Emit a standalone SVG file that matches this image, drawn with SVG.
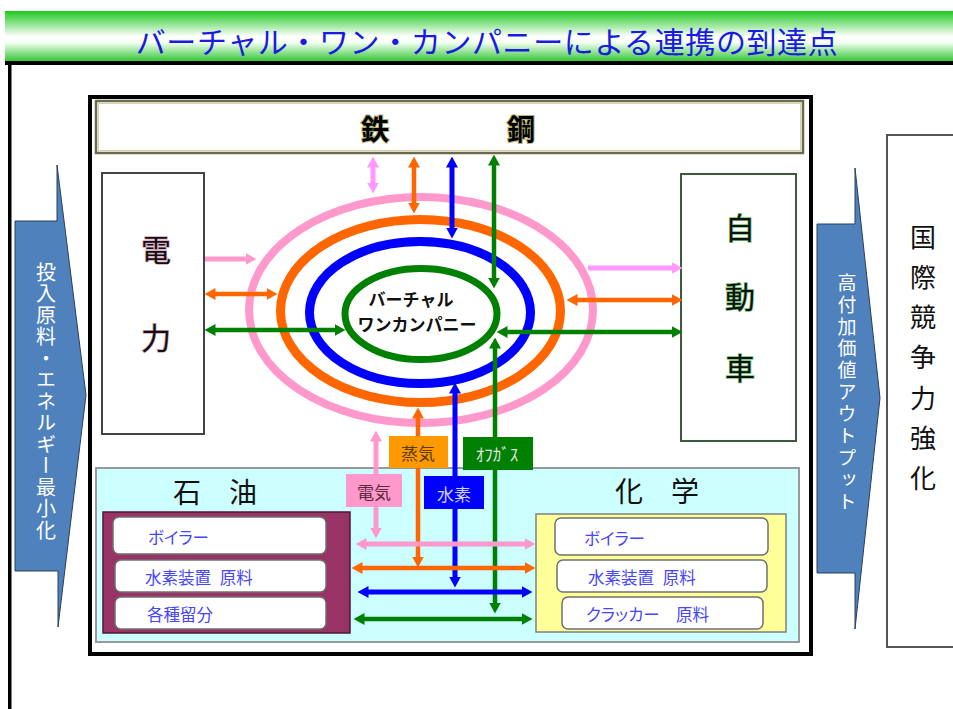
<svg xmlns="http://www.w3.org/2000/svg" width="953" height="709" viewBox="0 0 953 709">
<defs>
<linearGradient id="tg" x1="0" y1="0" x2="0" y2="1">
<stop offset="0" stop-color="#1ec81e"/>
<stop offset="0.5" stop-color="#ffffff"/>
<stop offset="0.62" stop-color="#f2fff2"/>
<stop offset="1" stop-color="#2cc42c"/>
</linearGradient>
<marker id="m-pk" viewBox="0 0 11 12" markerWidth="11" markerHeight="12" refX="0.5" refY="6" orient="auto-start-reverse" markerUnits="userSpaceOnUse"><path d="M0,0 L11,6 L0,12 z" fill="#ff99cc"/></marker>
<marker id="m-pk2" viewBox="0 0 11 12" markerWidth="11" markerHeight="12" refX="0.5" refY="6" orient="auto-start-reverse" markerUnits="userSpaceOnUse"><path d="M0,0 L11,6 L0,12 z" fill="#ff99ff"/></marker>
<marker id="m-or" viewBox="0 0 11 12" markerWidth="11" markerHeight="12" refX="0.5" refY="6" orient="auto-start-reverse" markerUnits="userSpaceOnUse"><path d="M0,0 L11,6 L0,12 z" fill="#ff6600"/></marker>
<marker id="m-bl" viewBox="0 0 11 12" markerWidth="11" markerHeight="12" refX="0.5" refY="6" orient="auto-start-reverse" markerUnits="userSpaceOnUse"><path d="M0,0 L11,6 L0,12 z" fill="#0000ff"/></marker>
<marker id="m-gr" viewBox="0 0 11 12" markerWidth="11" markerHeight="12" refX="0.5" refY="6" orient="auto-start-reverse" markerUnits="userSpaceOnUse"><path d="M0,0 L11,6 L0,12 z" fill="#008000"/></marker>
<style>
text { font-family: "Noto Sans CJK JP", "Noto Sans", sans-serif; }
.c { dominant-baseline: central; text-anchor: middle; }
.l { dominant-baseline: central; text-anchor: start; }
.pk { stroke: #ff99cc; stroke-width: 5; fill: none; }
.pk2 { stroke: #ff99ff; stroke-width: 5; fill: none; }
.or { stroke: #ff6600; stroke-width: 4.5; fill: none; }
.bl { stroke: #0000ff; stroke-width: 5; fill: none; }
.gr { stroke: #008000; stroke-width: 4.5; fill: none; }
.d-pk { marker-start: url(#m-pk); marker-end: url(#m-pk); }
.d-pk2 { marker-start: url(#m-pk2); marker-end: url(#m-pk2); }
.d-or { marker-start: url(#m-or); marker-end: url(#m-or); }
.d-bl { marker-start: url(#m-bl); marker-end: url(#m-bl); }
.d-gr { marker-start: url(#m-gr); marker-end: url(#m-gr); }
.wb { fill: #ffffff; stroke: #707070; stroke-width: 1.5; }
.bt { fill: #4646ff; font-size: 16.5px; font-feature-settings: "palt" 1; }
.big { font-size: 30px; fill: #111111; }
.vt { writing-mode: vertical-rl; fill: #ffffff; }
.blk { fill: #4f81bd; stroke: #2a3f5c; stroke-width: 1; }
</style>
</defs>

<g id="title">
<rect x="5" y="11" width="948" height="51" fill="url(#tg)"/>
<rect x="5" y="61" width="948" height="4" fill="#000000"/>
<text x="487" y="40" class="c" font-size="30" fill="#1a1ae0" letter-spacing="0.6">バーチャル・ワン・カンパニーによる連携の到達点</text>
</g>

<g id="outer-frame">
<rect x="8" y="62" width="3.5" height="647" fill="#000000"/>
</g>

<g id="input-arrow">
<polygon class="blk" points="15,221 57,221 57,165 86,395 58,627 58,571 15,571"/>
<text x="46" y="262" class="vt" font-size="20" letter-spacing="1.5" style="dominant-baseline: central;">投入原料・エネルギー最小化</text>
</g>

<g id="output-arrow">
<polygon class="blk" points="817,224 855,224 855,168 880,398 855,629 855,573 817,573"/>
<text x="847" y="273" class="vt" font-size="19" letter-spacing="2.9" style="dominant-baseline: central;">高付加価値アウトプット</text>
</g>

<g id="node-kokusai">
<rect x="887" y="135" width="80" height="512" fill="#ffffff" stroke="#555555" stroke-width="2"/>
<text x="923" y="224" font-size="26" fill="#111111" style="writing-mode: vertical-rl; dominant-baseline: central;" letter-spacing="14.2">国際競争力強化</text>
</g>

<g id="main-frame">
<rect x="90" y="97" width="721" height="557" fill="#ffffff" stroke="#000000" stroke-width="4"/>
</g>

<g id="node-tekko">
<rect x="96" y="101" width="707" height="52" fill="#ffffff" stroke="#6b6b4b" stroke-width="2.5"/>
<rect x="98.5" y="103.5" width="702" height="47" fill="none" stroke="#d4d4a8" stroke-width="1"/>
<text x="375" y="128" class="c" font-size="28" font-weight="bold" fill="#000000" stroke="#b4b47a" stroke-width="2" paint-order="stroke">鉄</text>
<text x="521" y="128" class="c" font-size="28" font-weight="bold" fill="#000000" stroke="#b4b47a" stroke-width="2" paint-order="stroke">鋼</text>
</g>

<g id="node-denryoku">
<rect x="102" y="173" width="102" height="261" fill="#ffffff" stroke="#444444" stroke-width="2"/>
<text x="156" y="248" class="c big" stroke="#d8a8c0" stroke-width="1.5" paint-order="stroke">電</text>
<text x="156" y="336" class="c big" stroke="#d8a8c0" stroke-width="1.5" paint-order="stroke">力</text>
</g>

<g id="node-jidosha">
<rect x="681" y="174" width="115" height="267" fill="#ffffff" stroke="#3c5a3c" stroke-width="2"/>
<text x="740" y="226" class="c big" stroke="#70c070" stroke-width="1.5" paint-order="stroke">自</text>
<text x="740" y="295" class="c big" stroke="#70c070" stroke-width="1.5" paint-order="stroke">動</text>
<text x="740" y="366" class="c big" stroke="#70c070" stroke-width="1.5" paint-order="stroke">車</text>
</g>

<g id="node-base">
<rect x="96" y="468" width="703" height="174" fill="#ccffff" stroke="#999999" stroke-width="2"/>
</g>

<g id="node-sekiyu">
<text x="215" y="491" class="c" font-size="28" fill="#111111">石　油</text>
<rect x="103" y="512" width="247" height="121" fill="#993366" stroke="#4d1a33" stroke-width="1.5"/>
<rect class="wb" x="113" y="517" width="213" height="37" rx="6"/>
<rect class="wb" x="115" y="560" width="211" height="32" rx="6"/>
<rect class="wb" x="115" y="597" width="211" height="32" rx="6"/>
<text x="148" y="537" class="l bt">ボイラー</text>
<text x="145" y="577" class="l bt" word-spacing="5">水素装置 原料</text>
<text x="147" y="614" class="l bt">各種留分</text>
</g>

<g id="node-kagaku">
<text x="657" y="490" class="c" font-size="28" fill="#111111">化　学</text>
<rect x="536" y="514" width="250" height="118" fill="#ffff99" stroke="#808080" stroke-width="1.5"/>
<rect class="wb" x="555" y="518" width="213" height="37" rx="6"/>
<rect class="wb" x="557" y="560" width="210" height="32" rx="6"/>
<rect class="wb" x="562" y="597" width="201" height="32" rx="6"/>
<text x="584" y="538" class="l bt">ボイラー</text>
<text x="588" y="577" class="l bt" word-spacing="5">水素装置 原料</text>
<text x="586" y="614" class="l bt">クラッカー　原料</text>
</g>

<g id="node-virtual-company">
<ellipse cx="421" cy="310" rx="172" ry="113" fill="none" stroke="#ff99cc" stroke-width="8"/>
<ellipse cx="420.5" cy="311" rx="140" ry="91.5" fill="none" stroke="#ff6600" stroke-width="9"/>
<ellipse cx="420" cy="312.5" rx="110.5" ry="71" fill="none" stroke="#0000ff" stroke-width="9"/>
<ellipse cx="421" cy="314" rx="76" ry="45.5" fill="none" stroke="#008000" stroke-width="7"/>
<text x="411" y="298" class="c" font-size="17" font-weight="bold" fill="#111111">バーチャル</text>
<text x="417" y="323" class="c" font-size="17" font-weight="bold" fill="#111111">ワンカンパニー</text>
</g>

<g id="connectors">
<line class="pk2 d-pk2" x1="373" y1="167" x2="373" y2="183"/>
<line class="or d-or" x1="414" y1="167" x2="414" y2="203"/>
<line class="bl d-bl" x1="452" y1="167" x2="452" y2="228"/>
<line class="gr d-gr" x1="494" y1="165" x2="494" y2="278"/>
<line class="pk" x1="205" y1="259" x2="246" y2="259" marker-end="url(#m-pk)"/>
<line class="or d-or" x1="215" y1="294" x2="267" y2="294"/>
<line class="gr d-gr" x1="215" y1="330" x2="335" y2="330"/>
<line class="pk2" x1="588" y1="268" x2="672" y2="268" marker-end="url(#m-pk2)"/>
<line class="or d-or" x1="577" y1="300" x2="672" y2="300"/>
<line class="gr d-gr" x1="507" y1="332" x2="672" y2="332"/>
<line class="gr d-gr" x1="495" y1="348" x2="495" y2="603"/>
<line class="bl d-bl" x1="455" y1="393" x2="455" y2="577"/>
<line class="or d-or" x1="418" y1="418" x2="418" y2="557"/>
<line class="pk d-pk" x1="376" y1="441" x2="376" y2="528"/>
<line class="pk d-pk" x1="366" y1="544" x2="525" y2="544"/>
<line class="or d-or" x1="362" y1="568" x2="525" y2="568"/>
<line class="bl d-bl" x1="368" y1="592" x2="522" y2="592"/>
<line class="gr d-gr" x1="364" y1="619" x2="522" y2="619"/>
</g>

<g id="label-joki">
<rect x="389" y="436" width="59" height="32" fill="#ff9900"/>
<text x="418" y="452" class="c" font-size="17" fill="#5a3c00">蒸気</text>
</g>
<g id="label-offgas">
<rect x="463" y="437" width="70" height="33" fill="#008000"/>
<text x="497" y="453" class="c" font-size="17" fill="#e6e6e6">ｵﾌｶﾞｽ</text>
</g>
<g id="label-denki">
<rect x="346" y="474" width="56" height="33" fill="#ff99cc"/>
<text x="374" y="491" class="c" font-size="17" fill="#5a2a40">電気</text>
</g>
<g id="label-suiso">
<rect x="424" y="476" width="60" height="33" fill="#0000ff"/>
<text x="454" y="493" class="c" font-size="17" fill="#d0d0ff">水素</text>
</g>
</svg>
